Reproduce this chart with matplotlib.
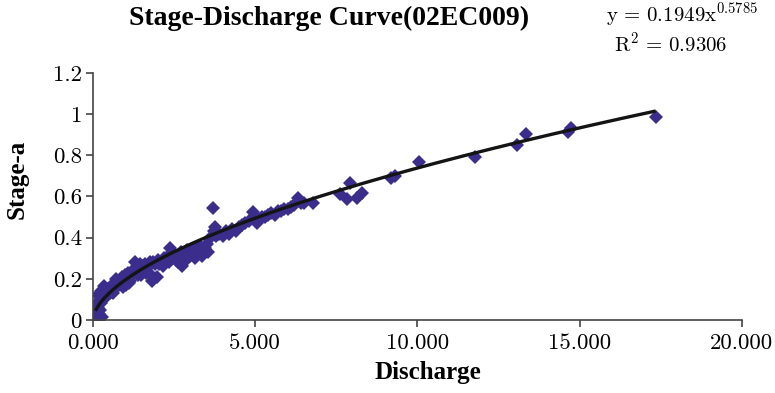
import numpy as np
import matplotlib
matplotlib.use("Agg")
import matplotlib.pyplot as plt
from matplotlib.ticker import FuncFormatter

plt.rcParams["mathtext.fontset"] = "cm"

discharge = [0.05, 0.08, 0.10, 0.12, 0.15, 0.18, 0.20, 0.22, 0.25, 0.28, 0.30, 0.32,
             0.35, 0.38, 0.40, 0.45, 0.50, 0.52, 0.55, 0.60, 0.65, 0.70, 0.75, 0.80,
             0.85, 0.90, 0.95, 1.00, 1.05, 1.10, 1.15, 1.20, 1.25, 1.30, 1.35, 1.40,
             1.50, 1.55, 1.60, 1.70, 1.75, 1.80, 1.82, 1.90, 1.97, 2.00, 2.10, 2.20,
             2.30, 2.37, 2.40, 2.50, 2.60, 2.70, 2.74, 2.80, 2.90, 3.00, 3.10, 3.20,
             3.30, 3.40, 3.50, 3.60, 3.70, 3.73, 3.76, 3.80, 3.90, 4.00, 4.10, 4.20,
             4.30, 4.40, 4.50, 4.60, 4.70, 4.80, 4.93, 5.05, 5.10, 5.20, 5.30, 5.40,
             5.50, 5.60, 5.70, 5.80, 5.90, 6.00, 6.10, 6.20, 6.32, 6.40, 6.50, 6.78,
             7.61, 7.83, 7.92, 8.14, 8.29, 9.20, 9.30, 10.05, 11.77, 13.06, 13.34,
             14.64, 14.73, 17.35,
             0.42, 0.58, 0.68, 0.78, 0.88, 0.98, 1.08, 1.18, 1.28, 1.45, 1.65, 1.85,
             2.05, 2.25, 2.45, 2.65, 2.85, 3.05, 3.25, 3.45, 3.15, 2.95, 2.55,
             0.15, 0.22, 0.26, 0.62, 0.72, 0.92, 1.12, 1.38, 1.62, 2.15, 2.35, 2.62,
             2.88, 3.35, 3.55, 1.48, 1.02]
stage = [0.04, 0.02, 0.01, 0.07, 0.06, 0.09, 0.03, 0.11, 0.08, 0.015, 0.12, 0.10,
         0.165, 0.13, 0.11, 0.15, 0.14, 0.13, 0.16, 0.15, 0.17, 0.16, 0.18, 0.17,
         0.19, 0.20, 0.18, 0.21, 0.20, 0.22, 0.19, 0.23, 0.24, 0.28, 0.25, 0.23,
         0.26, 0.24, 0.27, 0.26, 0.28, 0.22, 0.19, 0.27, 0.21, 0.29, 0.28, 0.30,
         0.31, 0.35, 0.30, 0.32, 0.31, 0.33, 0.26, 0.32, 0.34, 0.31, 0.35, 0.33,
         0.36, 0.34, 0.37, 0.40, 0.545, 0.43, 0.45, 0.41, 0.42, 0.41, 0.43, 0.42,
         0.44, 0.43, 0.45, 0.46, 0.47, 0.48, 0.525, 0.47, 0.49, 0.50, 0.50, 0.51,
         0.52, 0.51, 0.53, 0.53, 0.54, 0.54, 0.55, 0.56, 0.595, 0.57, 0.57, 0.57,
         0.61, 0.59, 0.665, 0.595, 0.615, 0.69, 0.70, 0.77, 0.79, 0.85, 0.905,
         0.915, 0.935, 0.985,
         0.14, 0.17, 0.18, 0.19, 0.21, 0.22, 0.23, 0.21, 0.25, 0.27, 0.25, 0.28,
         0.27, 0.29, 0.31, 0.30, 0.30, 0.33, 0.32, 0.35, 0.30, 0.31, 0.29,
         0.12, 0.05, 0.14, 0.13, 0.20, 0.16, 0.18, 0.22, 0.23, 0.26, 0.28, 0.28,
         0.29, 0.31, 0.33, 0.22, 0.17]

# power-law trend line shown on the chart
coef_a = 0.1949
coef_b = 0.5785
r_squared = 0.9306

fig = plt.figure(figsize=(7.75, 3.93), dpi=100)
ax = fig.add_axes([0.12, 0.186, 0.837, 0.628])

ax.plot(discharge, stage, linestyle="none", marker="D", markersize=7.5,
        color="#3a2d8c", markeredgewidth=0, zorder=2)

xfit = np.linspace(0.1, 17.3, 300)
ax.plot(xfit, coef_a * xfit ** coef_b, color="#141414", lw=2.4, zorder=3)

ax.set_xlim(0, 20)
ax.set_ylim(0, 1.2)
ax.set_xticks([0, 5, 10, 15, 20])
ax.set_yticks([0, 0.2, 0.4, 0.6, 0.8, 1.0, 1.2])
ax.xaxis.set_major_formatter(FuncFormatter(lambda v, p: f"{v:.3f}"))
ax.yaxis.set_major_formatter(FuncFormatter(lambda v, p: f"{v:g}"))

for s in ["top", "right"]:
    ax.spines[s].set_visible(False)
for s in ["left", "bottom"]:
    ax.spines[s].set_color("#444444")
    ax.spines[s].set_linewidth(1.2)
ax.tick_params(direction="out", length=5, width=1.2, color="#444444",
               labelsize=16.5, pad=3)
ax.tick_params(axis="x", pad=5)
for lab in ax.get_xticklabels() + ax.get_yticklabels():
    lab.set_fontfamily("cmr10")

serif = ["Liberation Serif", "DejaVu Serif"]
ax.set_xlabel("Discharge", fontfamily=serif, fontweight="bold", fontsize=18)
ax.set_ylabel("Stage-a", fontfamily=serif, fontweight="bold", fontsize=18)
ax.xaxis.set_label_coords(0.517, -0.165)
ax.yaxis.set_label_coords(-0.1, 0.57)
fig.text(0.425, 0.952, "Stage-Discharge Curve(02EC009)", fontfamily=serif,
         fontweight="bold", fontsize=20, ha="center", va="center")

fig.text(0.88, 0.962, r"$\mathrm{y\,=\,%.4fx^{%.4f}}$" % (coef_a, coef_b),
         fontsize=15, ha="center", va="center")
fig.text(0.865, 0.89, r"$\mathrm{R^2\,=\,%.4f}$" % r_squared,
         fontsize=15, ha="center", va="center")

fig.savefig("out.png", dpi=100)
